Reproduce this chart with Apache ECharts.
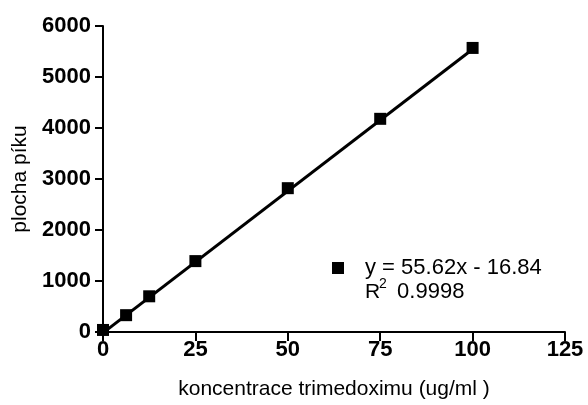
<!DOCTYPE html>
<html><head><meta charset="utf-8">
<script src="https://cdn.jsdelivr.net/npm/echarts@6/dist/echarts.min.js"></script>
<style>html,body{margin:0;padding:0;background:#fff}#c{width:588px;height:405px}</style>
</head><body><div id="c"></div>
<script>
var concX = [0, 6.25, 12.5, 25, 50, 75, 100];
var areaY = [40, 330, 700, 1390, 2820, 4180, 5570];
var fitX = [0, 100];
var fitY = [-16.84, 5545.16];
var xTicks = [0, 25, 50, 75, 100, 125];
var yTicks = [0, 1000, 2000, 3000, 4000, 5000, 6000];
var eqText = 'y = 55.62x - 16.84';
var r2Value = '0.9998';
var xName = 'koncentrace trimedoximu (ug/ml )';
var yName = 'plocha píku';

var FONT = '"Liberation Sans", Arial, sans-serif';
var chart = echarts.init(document.getElementById('c'));
chart.setOption({
  animation: false,
  grid: {left: 103, top: 26, right: 23, bottom: 71, containLabel: false},
  xAxis: {
    type: 'value', min: xTicks[0], max: xTicks[xTicks.length-1], interval: 25,
    name: xName, nameLocation: 'middle', nameGap: 47,
    nameTextStyle: {fontFamily: FONT, fontSize: 21, color: '#000'},
    axisLine: {lineStyle: {color: '#000', width: 2}},
    axisTick: {show: true, length: 9, lineStyle: {color: '#000', width: 2}},
    axisLabel: {fontFamily: FONT, fontSize: 22, fontWeight: 'bold', color: '#000', margin: 7,
      formatter: function(v){ return String(v); }},
    splitLine: {show: false}
  },
  yAxis: {
    type: 'value', min: yTicks[0], max: yTicks[yTicks.length-1], interval: 1000,
    name: yName, nameLocation: 'middle', nameGap: 71,
    nameTextStyle: {fontFamily: FONT, fontSize: 21, color: '#000'},
    axisLine: {show: true, lineStyle: {color: '#000', width: 2}},
    axisTick: {show: true, length: 8, lineStyle: {color: '#000', width: 2}},
    axisLabel: {fontFamily: FONT, fontSize: 22, fontWeight: 'bold', color: '#000', margin: 12,
      formatter: function(v){ return String(v); }},
    splitLine: {show: false}
  },
  legend: {
    left: 332, top: 257, padding: 0, itemWidth: 12, itemHeight: 12, itemGap: 10,
    icon: 'rect',
    textStyle: {fontFamily: FONT, fontSize: 22, color: '#000', padding: [0,0,0,16]},
    data: [{name: eqText, icon: 'rect'}]
  },
  graphic: [
    {type: 'text', left: 365, top: 282, style: {text: 'R', font: '21px ' + FONT, fill: '#000'}},
    {type: 'text', left: 379, top: 277, style: {text: '2', font: '14px ' + FONT, fill: '#000'}},
    {type: 'text', left: 391, top: 281, style: {text: ' ' + r2Value, font: '22px ' + FONT, fill: '#000'}}
  ],
  series: [
    {
      type: 'line', name: 'fit', data: fitX.map(function(x,i){return [x, fitY[i]];}),
      showSymbol: false, symbol: 'none', lineStyle: {color: '#000', width: 3}, z: 2
    },
    {
      type: 'scatter', name: eqText, data: concX.map(function(x,i){return [x, areaY[i]];}),
      symbol: 'rect', symbolSize: 12, itemStyle: {color: '#000', opacity: 1}, z: 3
    }
  ]
});
</script></body></html>
